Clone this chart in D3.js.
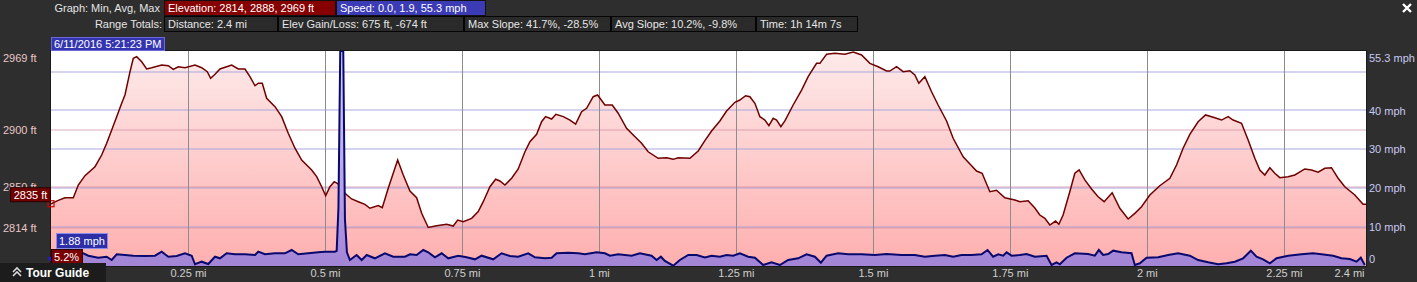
<!DOCTYPE html>
<html><head><meta charset="utf-8">
<script src="https://cdn.jsdelivr.net/npm/d3@7"></script>
<style>
html,body{margin:0;padding:0;background:#2e2e2e;overflow:hidden}
svg{display:block}
text{font-family:"Liberation Sans",Arial,sans-serif;font-size:11px}
</style></head><body><svg id="c" width="1417" height="282"></svg>
<script>
// ---------------- DATA ----------------
const distMi = [0,0.0133,0.0255,0.0407,0.0498,0.0620,0.0803,0.0925,0.1016,0.1108,0.1199,0.1290,0.1350,0.1442,0.1502,0.1564,0.1655,0.1746,0.1838,0.2020,0.2141,0.2232,0.2323,0.2445,0.2628,0.2750,0.2852,0.2914,0.2993,0.3084,0.3206,0.3297,0.3418,0.3540,0.3631,0.3723,0.3783,0.3856,0.3936,0.4088,0.4210,0.4330,0.4453,0.4575,0.4757,0.4849,0.4940,0.5013,0.5091,0.5170,0.5274,0.5365,0.5487,0.5608,0.5730,0.5821,0.5973,
0.6046,0.6155,0.6246,0.6327,0.6429,0.6551,0.6673,0.6765,0.6885,0.7038,0.7221,0.7341,0.7422,0.7524,0.7677,0.7797,0.7889,0.8011,0.8115,0.8193,0.8285,0.8407,0.8527,0.8650,0.8741,0.8863,0.8954,0.9027,0.9137,0.9215,0.9349,0.9471,0.9575,0.9684,0.9775,0.9896,0.9976,1.0109,1.0243,1.0352,1.0505,1.0626,1.0779,1.0899,1.1082,1.1235,1.1356,1.1447,1.1661,1.1812,1.1934,
1.2056,1.2208,1.2330,1.2482,1.2573,1.2677,1.2755,1.2847,1.2938,1.3029,1.3102,1.3181,1.3243,1.3321,1.3394,1.3545,1.3699,1.3819,1.3972,1.4033,1.4155,1.4307,1.4489,1.4641,1.4794,1.4945,1.5097,1.5250,1.5310,1.5432,1.5553,1.5675,1.5766,1.5839,1.5949,1.6071,1.6191,1.6345,1.6465,1.6648,1.6801,1.6892,1.6994,1.7135,1.7257,1.7409,1.7591,1.7682,1.7834,1.7956,1.8047,
1.8139,1.8230,1.8334,1.8394,1.8472,1.8594,1.8686,1.8764,1.8868,1.8991,1.9111,1.9221,1.9367,1.9507,1.9659,1.9781,1.9903,2.0055,2.0237,2.0420,2.0542,2.0662,2.0785,2.0936,2.1071,2.1241,2.1363,2.1484,2.1575,2.1728,2.1849,2.1971,2.2062,2.2153,2.2245,2.2336,2.2427,2.2579,2.2701,2.2883,2.3005,2.3126,2.3248,2.3370,2.3491,2.3613,2.3796,2.3947,2.4];

const elevFt = [2835.0,2838.0,2840.3,2840.3,2851.5,2859.8,2867.7,2878.0,2888.4,2900.1,2911.9,2923.7,2931.0,2951.6,2963.4,2964.9,2960.4,2954.0,2955.1,2957.5,2956.9,2953.7,2956.0,2955.1,2957.5,2955.1,2951.6,2945.8,2949.3,2954.0,2956.0,2957.5,2954.0,2954.0,2947.2,2939.2,2941.4,2941.4,2928.1,2920.7,2911.9,2897.2,2884.0,2873.6,2864.8,2858.9,2850.0,2842.1,2850.0,2854.5,2851.5,2844.2,2839.2,2836.8,2834.5,2831.0,2833.3,
2831.5,2848.6,2861.9,2873.6,2860.4,2846.2,2840.3,2826.5,2814.0,2815.6,2816.8,2815.3,2820.6,2819.1,2822.1,2828.0,2836.8,2850.0,2856.6,2855.1,2851.5,2857.5,2865.7,2880.9,2889.8,2896.3,2907.4,2911.9,2909.8,2914.0,2911.9,2908.9,2905.4,2916.3,2919.3,2929.5,2931.0,2922.2,2922.2,2914.9,2901.6,2895.7,2888.4,2880.9,2875.1,2875.6,2874.2,2875.6,2875.1,2881.6,2890.8,
2899.2,2908.1,2916.9,2924.6,2926.6,2930.4,2929.5,2923.7,2911.9,2908.9,2903.9,2910.4,2908.9,2903.0,2908.1,2922.2,2935.4,2947.2,2959.0,2959.0,2967.0,2967.9,2967.0,2969.0,2966.4,2959.0,2956.0,2952.2,2952.2,2956.0,2951.6,2952.5,2948.7,2941.4,2947.2,2933.9,2922.2,2908.1,2892.8,2876.5,2868.6,2863.9,2861.9,2845.6,2846.9,2840.3,2838.3,2836.8,2837.7,2831.2,2825.0,
2822.1,2816.2,2819.7,2816.8,2825.0,2845.6,2861.9,2864.8,2856.0,2848.0,2841.2,2836.8,2844.7,2831.0,2821.5,2826.5,2832.4,2842.7,2850.9,2857.5,2869.2,2884.0,2896.3,2907.4,2913.4,2911.0,2908.9,2911.9,2908.9,2906.0,2891.3,2875.1,2864.8,2860.4,2866.8,2861.9,2858.0,2858.9,2860.4,2865.7,2864.8,2862.8,2866.3,2866.8,2857.5,2850.0,2842.7,2834.5,2834.5];

const speedDistMi = [0,0.0589,0.0681,0.0863,0.1016,0.1108,0.1199,0.1350,0.1502,0.1715,0.1898,0.2020,0.2141,0.2294,0.2445,0.2568,0.2628,0.2750,0.2870,0.2993,0.3084,0.3206,0.3358,0.3540,0.3723,0.3783,0.3905,0.4088,0.4270,0.4392,0.4513,0.4695,0.4878,0.5000,0.5182,0.5214,0.5246,0.5279,0.5334,0.5365,0.5401,0.5456,0.5578,0.5670,0.5761,0.5912,
0.6095,0.6246,0.6460,0.6551,0.6673,0.6794,0.6885,0.7007,0.7130,0.7250,0.7432,0.7586,0.7737,0.7859,0.8071,0.8224,0.8376,0.8527,0.8710,0.8832,0.9015,0.9137,0.9228,0.9440,0.9622,0.9745,0.9958,1.0109,1.0201,1.0352,1.0597,1.0748,1.0961,1.1053,1.1131,1.1204,1.1356,1.1478,1.1630,1.1783,1.1934,
1.2056,1.2208,1.2330,1.2451,1.2573,1.2724,1.2847,1.2998,1.3151,1.3303,1.3454,1.3637,1.3790,1.3942,1.4051,1.4155,1.4367,1.4549,1.4794,1.5036,1.5250,1.5523,1.5766,1.5949,1.6131,1.6314,1.6465,1.6618,1.6801,1.6983,1.7093,1.7195,1.7287,1.7378,1.7440,1.7531,1.7682,1.7805,1.7956,
1.8170,1.8261,1.8352,1.8412,1.8535,1.8686,1.8929,1.9051,1.9124,1.9203,1.9294,1.9385,1.9538,1.9721,1.9781,1.9872,1.9995,2.0207,2.0389,2.0571,2.0785,2.0936,2.1119,2.1301,2.1454,2.1606,2.1757,2.1898,2.2002,2.2122,2.2245,2.2367,2.2579,2.2823,2.3035,2.3188,2.3400,2.3553,2.3704,2.3827,2.3905,2.3978];

const speedMph = [1.88,3.27,2.65,2.13,2.39,1.54,3.01,2.83,2.65,2.57,2.65,3.68,2.39,2.57,3.27,2.65,0.44,1.11,0.51,2.39,1.98,3.27,3.01,3.01,2.83,3.68,3.01,3.27,3.27,4.12,3.01,3.27,3.52,3.68,3.68,3.9,15,55.3,55.3,12,3.5,1.54,2.83,1.54,2.83,1.98,
3.27,2.39,2.39,3.01,2.83,4.12,3.52,2.24,3.27,1.98,2.65,2.24,1.72,2.65,1.72,3.27,2.57,2.39,3.27,2.24,1.98,2.13,3.27,3.42,3.27,3.01,3.52,3.27,2.65,3.01,2.65,3.27,2.65,1.54,2.39,1.29,0.08,1.54,2.83,2.83,2.2,
2.65,2.39,2.83,2.65,3.27,2.39,2.13,0.26,0.95,0.26,1.54,1.98,3.01,2.39,0.85,2.65,3.27,3.01,3.01,2.83,3.09,2.83,2.83,2.39,2.65,2.83,2.39,2.83,2.83,3.01,4.12,2.39,3.01,2.65,3.52,2.65,2.83,3.09,2.39,
2.65,0.26,0.95,0.44,2.13,3.27,3.09,2.65,4.12,2.83,3.09,3.94,3.52,3.27,0.26,0.69,2.13,2.24,2.83,3.27,2.65,1.54,0.95,0.44,0.69,1.11,1.98,3.94,2.39,1.72,0.69,1.98,2.65,3.01,3.27,3.01,2.65,1.98,1.80,1.11,2.13,0.26];

const xTickValues = [0.25,0.5,0.75,1,1.25,1.5,1.75,2,2.25,2.4];
const xTickLabels = ["0.25 mi","0.5 mi","0.75 mi","1 mi","1.25 mi","1.5 mi","1.75 mi","2 mi","2.25 mi","2.4 mi"];
const elevTicks = [2969,2900,2850,2814];
const elevTickLabels = ["2969 ft","2900 ft","2850 ft","2814 ft"];
const speedTicks = [55.3,40,30,20,10,0];
const speedTickLabels = ["55.3 mph","40 mph","30 mph","20 mph","10 mph","0"];
const speedGrid = [10,20,30,40,50];
const elevGrid = [2900,2850,2814];

const graphLabel = "Graph: Min, Avg, Max";
const rangeLabel = "Range Totals:";
const row1Stats = ["Elevation: 2814, 2888, 2969 ft","Speed: 0.0, 1.9, 55.3 mph"];
const row2Stats = ["Distance: 2.4 mi","Elev Gain/Loss: 675 ft, -674 ft","Max Slope: 41.7%, -28.5%","Avg Slope: 10.2%, -9.8%","Time: 1h 14m 7s"];
const cursorTime = "6/11/2016 5:21:23 PM";
const cursorElev = 2835, cursorSpeed = 1.88, cursorSlope = "5.2%";

// ---------------- LAYOUT ----------------
const M = {left:51,right:1366,top:51,bottom:266};
const svg = d3.select("#c");
const defs = svg.append("defs");

const x = d3.scaleLinear().domain([0,2.4]).range([M.left,M.right]);
const yE = d3.scaleLinear().domain([2780,2969]).range([M.bottom,52]);
const yS = d3.scaleLinear().domain([0,55.3]).range([M.bottom,M.top]);

function grad(id,c0,c1){
  const g = defs.append("linearGradient").attr("id",id).attr("gradientUnits","userSpaceOnUse")
    .attr("x1",0).attr("x2",0).attr("y1",M.top).attr("y2",M.bottom);
  g.append("stop").attr("offset",0).attr("stop-color",c0);
  g.append("stop").attr("offset",1).attr("stop-color",c1);
}
grad("gE","#fdeaea","#ffafaf");
grad("gS","#d6d6ff","#a384d6");
defs.append("clipPath").attr("id","clip").append("rect")
  .attr("x",M.left).attr("y",M.top).attr("width",M.right-M.left).attr("height",M.bottom-M.top);

// plot background
svg.append("rect").attr("x",M.left).attr("y",M.top).attr("width",M.right-M.left).attr("height",M.bottom-M.top).attr("fill","#ffffff");

const plot = svg.append("g").attr("clip-path","url(#clip)");
const elevData = d3.zip(distMi,elevFt);
const n = Math.min(speedDistMi.length,speedMph.length);
const speedData = d3.range(n).map(i=>[speedDistMi[i],speedMph[i]]);

plot.append("path").datum(elevData)
  .attr("d",d3.area().x(d=>x(d[0])).y0(M.bottom).y1(d=>yE(d[1])))
  .attr("fill","url(#gE)");

// grid
plot.selectAll(".gs").data(speedGrid).join("line")
  .attr("x1",M.left).attr("x2",M.right).attr("y1",d=>Math.round(yS(d))).attr("y2",d=>Math.round(yS(d)))
  .attr("stroke","#a0a0e0").attr("stroke-opacity",0.45).attr("stroke-width",2);
plot.selectAll(".ge").data(elevGrid).join("line")
  .attr("x1",M.left).attr("x2",M.right).attr("y1",d=>Math.round(yE(d))).attr("y2",d=>Math.round(yE(d)))
  .attr("stroke","#d08aa0").attr("stroke-opacity",0.35).attr("stroke-width",2);
plot.selectAll(".gx").data(xTickValues.slice(0,-1)).join("line")
  .attr("x1",d=>Math.round(x(d))+0.5).attr("x2",d=>Math.round(x(d))+0.5).attr("y1",M.top).attr("y2",M.bottom)
  .attr("stroke","#8c8c8c").attr("stroke-width",1);

plot.append("path").datum(elevData)
  .attr("d",d3.line().x(d=>x(d[0])).y(d=>yE(d[1])))
  .attr("fill","none").attr("stroke","#6e0000").attr("stroke-width",1.5);

plot.append("path").datum(speedData)
  .attr("d",d3.area().x(d=>x(d[0])).y0(M.bottom).y1(d=>yS(d[1])))
  .attr("fill","url(#gS)");
plot.append("path").datum(speedData)
  .attr("d",d3.line().x(d=>x(d[0])).y(d=>yS(d[1])))
  .attr("fill","none").attr("stroke","#08086e").attr("stroke-width",2);

// plot frame
svg.append("rect").attr("x",M.left-0.5).attr("y",M.top-0.5).attr("width",M.right-M.left+1).attr("height",M.bottom-M.top+1)
  .attr("fill","none").attr("stroke","#1a1a1a").attr("stroke-width",1);

// ---------------- AXES ----------------
function clampLabels(g){
  g.selectAll(".tick").each(function(){
    const t = d3.select(this);
    const ty = +t.attr("transform").match(/,([-\d.]+)/)[1];
    let dy = 0;
    if (ty < 58) dy = 58-ty;
    if (ty > 259) dy = 259-ty;
    t.select("text").attr("y",dy);
  });
}
const axE = svg.append("g").attr("transform",`translate(${M.left},0)`)
  .call(d3.axisLeft(yE).tickValues(elevTicks).tickSize(0).tickFormat((d,i)=>elevTickLabels[i]));
axE.select(".domain").remove();
axE.selectAll("text").attr("x",-48).attr("text-anchor","start").attr("fill","#e8c6c6").style("font-size","11px");
clampLabels(axE);

const axS = svg.append("g").attr("transform",`translate(${M.right},0)`)
  .call(d3.axisRight(yS).tickValues(speedTicks).tickSize(0).tickPadding(3).tickFormat((d,i)=>speedTickLabels[i]));
axS.select(".domain").remove();
axS.selectAll("text").attr("fill","#c9c9f0").style("font-size","11px");
clampLabels(axS);

const axX = svg.append("g").attr("transform",`translate(0,${M.bottom})`)
  .call(d3.axisBottom(x).tickValues(xTickValues).tickSize(0).tickPadding(3).tickFormat((d,i)=>xTickLabels[i]));
axX.select(".domain").remove();
axX.selectAll("text").attr("fill","#cfcfcf").style("font-size","11px");
axX.selectAll(".tick").filter(d=>d===2.4).select("text").attr("text-anchor","end").attr("x",-2);

// ---------------- HEADER ----------------
const hdr = svg.append("g");
hdr.append("text").attr("x",160).attr("y",12).attr("text-anchor","end").attr("fill","#e4e4e4").text(graphLabel);
hdr.append("text").attr("x",162).attr("y",28).attr("text-anchor","end").attr("fill","#e4e4e4").text(rangeLabel);
const r1 = [[164,336,"#870000"],[336,486,"#3b3bb5"]];
row1Stats.forEach((s,i)=>{
  hdr.append("rect").attr("x",r1[i][0]+0.5).attr("y",0.5).attr("width",r1[i][1]-r1[i][0]-1).attr("height",15)
    .attr("fill",r1[i][2]).attr("stroke","#111");
  hdr.append("text").attr("x",r1[i][0]+4).attr("y",12).attr("fill","#ffffff").text(s);
});
const r2 = [164,278,464,611,756,858];
row2Stats.forEach((s,i)=>{
  hdr.append("rect").attr("x",r2[i]+0.5).attr("y",16.5).attr("width",r2[i+1]-r2[i]-1).attr("height",15)
    .attr("fill","#2a2a2a").attr("stroke","#050505");
  hdr.append("text").attr("x",r2[i]+4).attr("y",28).attr("fill","#e6e6e6").text(s);
});
// cursor time
hdr.append("rect").attr("x",51.5).attr("y",37.5).attr("width",113).attr("height",13).attr("fill","#3434b0").attr("stroke","#6a6ad8");
hdr.append("text").attr("x",54).attr("y",48).attr("fill","#ffffff").text(cursorTime);

// close X
svg.append("path").attr("d","M1403,4 L1411,12 M1411,4 L1403,12").attr("stroke","#ffffff").attr("stroke-width",2.4);

// ---------------- CURSOR MARKERS ----------------
const cy = yE(cursorElev);
svg.append("rect").attr("x",x(0)-3).attr("y",cy-3).attr("width",6).attr("height",6).attr("fill","none").attr("stroke","#d00000").attr("stroke-width",1.2);
svg.append("rect").attr("x",10.5).attr("y",cy-16).attr("width",40).attr("height",14).attr("fill","#700000").attr("stroke","#2a0000");
svg.append("text").attr("x",30.5).attr("y",cy-5).attr("text-anchor","middle").attr("fill","#ffffff").text(cursorElev+" ft");

const sy = yS(cursorSpeed);
svg.append("rect").attr("x",x(0)-3).attr("y",sy-2).attr("width",4).attr("height",4).attr("fill","#2020c0");
svg.append("rect").attr("x",56.5).attr("y",233.5).attr("width",51).attr("height",15).attr("fill","#2e2ea6").attr("stroke","#8a8ae8");
svg.append("text").attr("x",59).attr("y",245).attr("fill","#ffffff").text(cursorSpeed.toFixed(2)+" mph");
svg.append("rect").attr("x",51.5).attr("y",249.5).attr("width",31).attr("height",14).attr("fill","#7a0000").attr("stroke","#2a0000");
svg.append("text").attr("x",54).attr("y",261).attr("fill","#ffffff").text(cursorSlope);

// ---------------- TOUR GUIDE ----------------
svg.append("rect").attr("x",0).attr("y",263).attr("width",106).attr("height",19).attr("fill","#1c1c1c");
svg.append("path").attr("d","M13,272 L17,268 L21,272 M13,276 L17,272 L21,276").attr("fill","none").attr("stroke","#d8d8d8").attr("stroke-width",1.6);
svg.append("text").attr("x",26).attr("y",277).attr("fill","#ffffff").style("font-weight","bold").style("font-size","12px").text("Tour Guide");
</script></body></html>
